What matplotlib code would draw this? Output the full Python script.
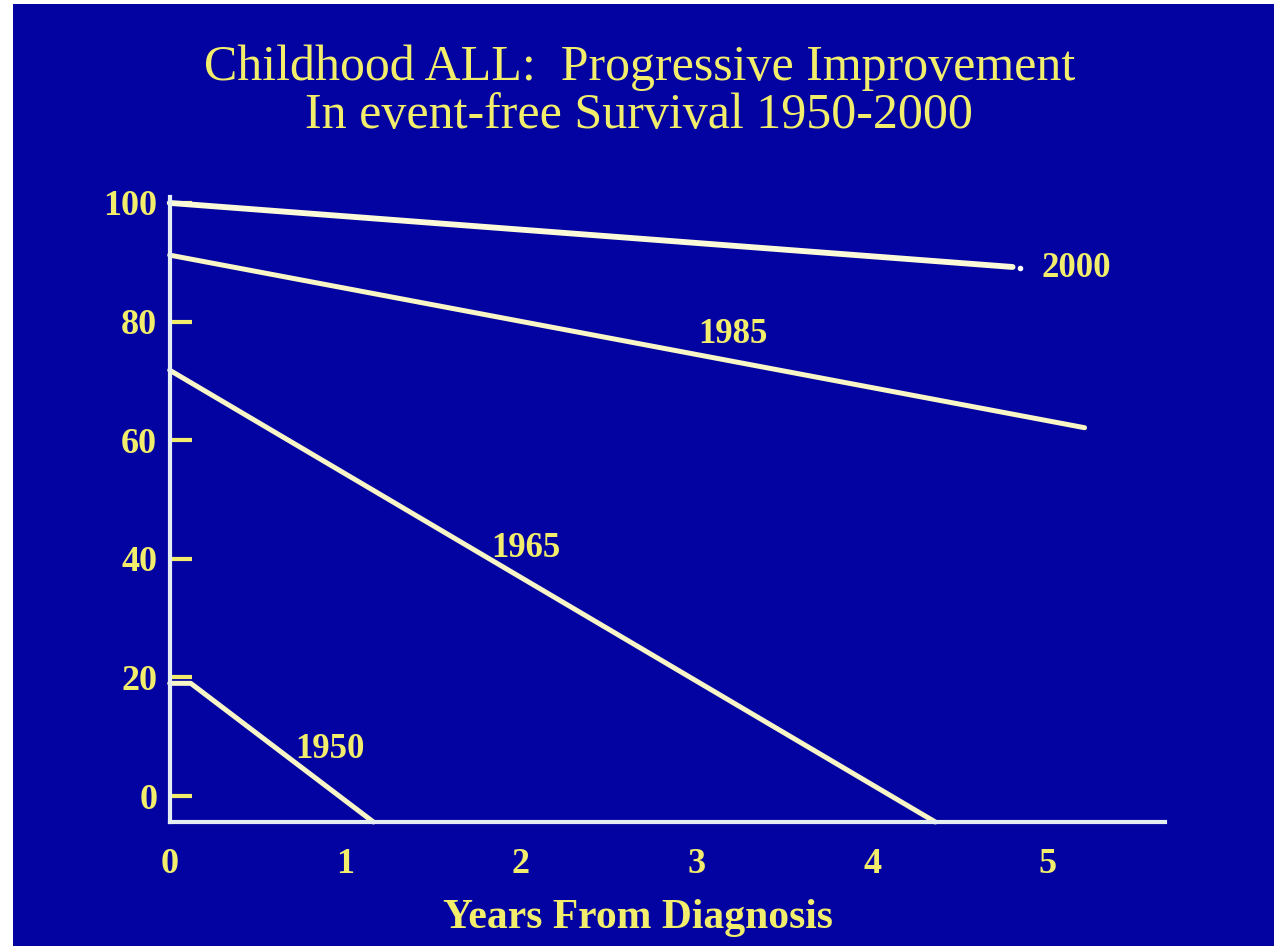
import matplotlib
matplotlib.use("Agg")
import matplotlib.pyplot as plt
from matplotlib.patches import Rectangle

# Event-free survival curves (years from diagnosis, % event-free)
years_1950 = [0.0, 0.12, 1.16]
efs_1950 = [19.0, 19.0, -4.38]

years_1965 = [0.0, 4.36]
efs_1965 = [71.8, -4.38]

years_1985 = [0.0, 5.21]
efs_1985 = [91.2, 62.1]

years_2000 = [0.0, 4.80]
efs_2000 = [100.0, 89.2]
end_dot_2000 = (4.84, 89.0)

# Curve labels and where they sit
curve_labels = ["1950", "1965", "1985", "2000"]
label_x = [0.91, 2.03, 3.21, 5.16]
label_y = [7.8, 41.8, 77.9, 89.0]

x_ticks = [0, 1, 2, 3, 4, 5]
y_ticks = [0, 20, 40, 60, 80, 100]

title_lines = ["Childhood ALL:  Progressive Improvement",
               "In event-free Survival 1950-2000"]
x_label = "Years From Diagnosis"

BG = "#0303a2"
YELLOW = "#f2ee6c"
LINE = "#f8f6c6"
AXIS = "#e4eef2"
SERIF = ["Liberation Serif", "DejaVu Serif"]

W, H = 1274, 946
fig = plt.figure(figsize=(W / 100, H / 100), dpi=100, facecolor="white")
fig.patches.append(Rectangle((13 / W, 0), 1 - 13 / W, 1 - 4 / H,
                             transform=fig.transFigure, facecolor=BG,
                             edgecolor="none", zorder=-10))

ax = fig.add_axes([169.7 / W, 124 / H, (1165 - 169.7) / W, (822 - 197) / H])
ax.patch.set_visible(False)
ax.set_xlim(0, 5.668)
ax.set_ylim(-4.38, 101.0)

for side in ("top", "right"):
    ax.spines[side].set_visible(False)
for side in ("left", "bottom"):
    ax.spines[side].set_color(AXIS)
    ax.spines[side].set_linewidth(3)

line_kw = dict(color=LINE, lw=3.6, solid_capstyle="round", clip_on=False)
ax.plot(years_1950, efs_1950, **line_kw)
ax.plot(years_1965, efs_1965, **line_kw)
ax.plot(years_1985, efs_1985, **line_kw)
ax.plot(years_2000, efs_2000, **{**line_kw, "lw": 4.2, "color": "#fbfad8"})
ax.plot([end_dot_2000[0]], [end_dot_2000[1]], marker="o", ms=4,
        color="white", mec="none", clip_on=False)

for txt, lx, ly in zip(curve_labels, label_x, label_y):
    ax.text(lx, ly, txt, ha="center", va="center", color=YELLOW,
            family=SERIF, fontweight="bold", fontsize=25)

ax.set_yticks(y_ticks)
ax.set_yticklabels([str(v) for v in y_ticks])
ax.tick_params(axis="y", direction="in", length=15.8, width=3,
               color=YELLOW, pad=9, labelcolor=YELLOW, labelsize=26)
ax.set_xticks(x_ticks)
ax.set_xticklabels([str(v) for v in x_ticks])
ax.tick_params(axis="x", length=0, pad=19, labelcolor=YELLOW, labelsize=26)
for lab in ax.get_xticklabels() + ax.get_yticklabels():
    lab.set_family(SERIF)
    lab.set_fontweight("bold")

fig.text(640 / W, 1 - 80 / H, title_lines[0], ha="center", va="baseline",
         color=YELLOW, family=SERIF, fontsize=36)
fig.text(639 / W, 1 - 128 / H, title_lines[1], ha="center", va="baseline",
         color=YELLOW, family=SERIF, fontsize=36)
fig.text(638 / W, 1 - 918 / H, x_label, ha="center", va="center",
         color=YELLOW, family=SERIF, fontweight="bold", fontsize=30)

fig.savefig("out.png", dpi=100, facecolor=fig.get_facecolor())
